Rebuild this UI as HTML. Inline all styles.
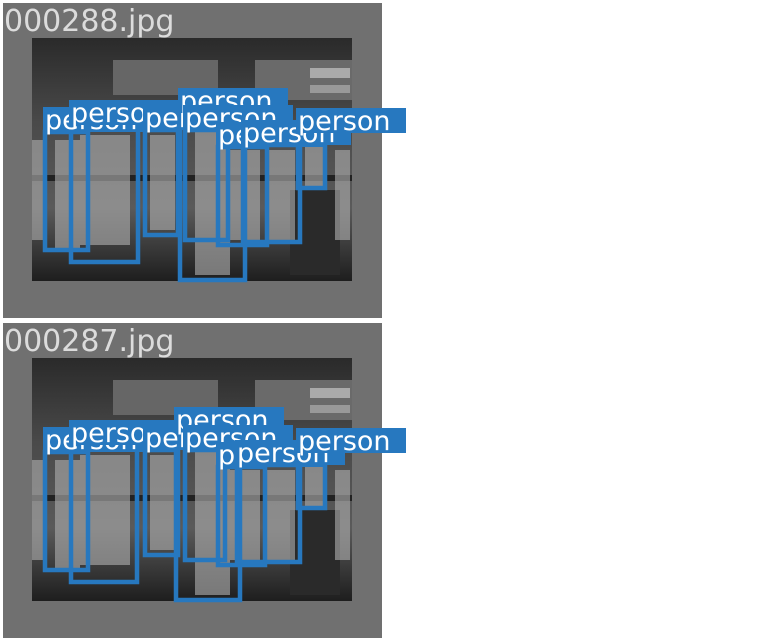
<!DOCTYPE html>
<html><head><meta charset="utf-8"><style>
html,body{margin:0;padding:0;background:#fff;}
svg{display:block;}
text{font-family:"DejaVu Sans","Liberation Sans",sans-serif;}
</style></head><body>
<svg id="s" width="768" height="640" viewBox="0 0 768 640">
<defs>
<linearGradient id="bg" x1="0" y1="0" x2="0" y2="1">
<stop offset="0" stop-color="#2a2a2a"/><stop offset="0.35" stop-color="#4a4a4a"/><stop offset="0.7" stop-color="#5a5a5a"/><stop offset="1" stop-color="#1e1e1e"/>
</linearGradient>
</defs>
</svg>
<script>
const panelNames = ["000288.jpg", "000287.jpg"];
const panelOffsets = [0, 320];
// boxes [x1,y1,x2,y2] per panel (panel coords)
const boxes0 = [[45,132,88,250],[71,125,138,262],[145,130,178,235],[180,113,245,280],[185,130,228,240],[218,147,267,245],[243,145,300,242],[298,133,325,188]];
const boxes1 = [[45,132,88,250],[71,125,137,262],[145,130,178,235],[176,112,240,280],[185,130,225,240],[218,147,265,245],[237,145,300,242],[298,133,325,188]];
const allBoxes = [boxes0, boxes1];
const labelText = "person";
const NS="http://www.w3.org/2000/svg";
const s=document.getElementById('s');
function mk(t,a,p){const e=document.createElementNS(NS,t);for(const k in a)e.setAttribute(k,a[k]);(p||s).appendChild(e);return e;}
panelOffsets.forEach((oy,pi)=>{
  const g=mk('g',{transform:'translate(0,'+oy+')'});
  
  
  const p=mk('rect',{x:3,y:3,width:379,height:315,fill:'#707070'},g);
  
  
  const im=mk('rect',{x:32,y:38,width:320,height:243,fill:'url(#bg)'},g);
  
  
  mk('rect',{x:113,y:60,width:105,height:35,fill:'#666'},g);
  mk('rect',{x:255,y:60,width:97,height:40,fill:'#6a6a6a'},g);
  mk('rect',{x:310,y:68,width:40,height:10,fill:'#aaa'},g);
  mk('rect',{x:310,y:85,width:40,height:8,fill:'#999'},g);
  mk('rect',{x:32,y:175,width:320,height:6,fill:'#222'},g);
  mk('rect',{x:290,y:190,width:50,height:85,fill:'#2a2a2a'},g);
  [[55,140,25,110],[80,135,50,110],[150,135,25,95],[195,125,35,150],[230,150,30,90],[265,150,30,90],[305,140,20,50],[335,150,15,90],[32,140,12,100]].forEach(r=>mk('rect',{x:r[0],y:r[1],width:r[2],height:r[3],fill:'#a8a8a8',opacity:0.65},g));
  const t=mk('text',{x:4,y:31,'font-size':30,fill:'#dcdcdc'},g);
  t.textContent=panelNames[pi];
  
  
  const bx=allBoxes[pi];
  bx.forEach((b,i)=>{
    const r=mk('rect',{x:b[0],y:b[1],width:b[2]-b[0],height:b[3]-b[1],fill:'none',stroke:'#2778bf','stroke-width':4.5},g);
    
    
  });
  bx.forEach((b,i)=>{
    const lg=mk('g',{},g);
    
    
    mk('rect',{x:b[0]-2,y:b[1]-25,width:110,height:25,fill:'#2778bf'},lg);
    const tx=mk('text',{x:b[0],y:b[1]-3,'font-size':27,fill:'#fff'},lg);
    tx.textContent=labelText;
  });
});
</script>
</body></html>
